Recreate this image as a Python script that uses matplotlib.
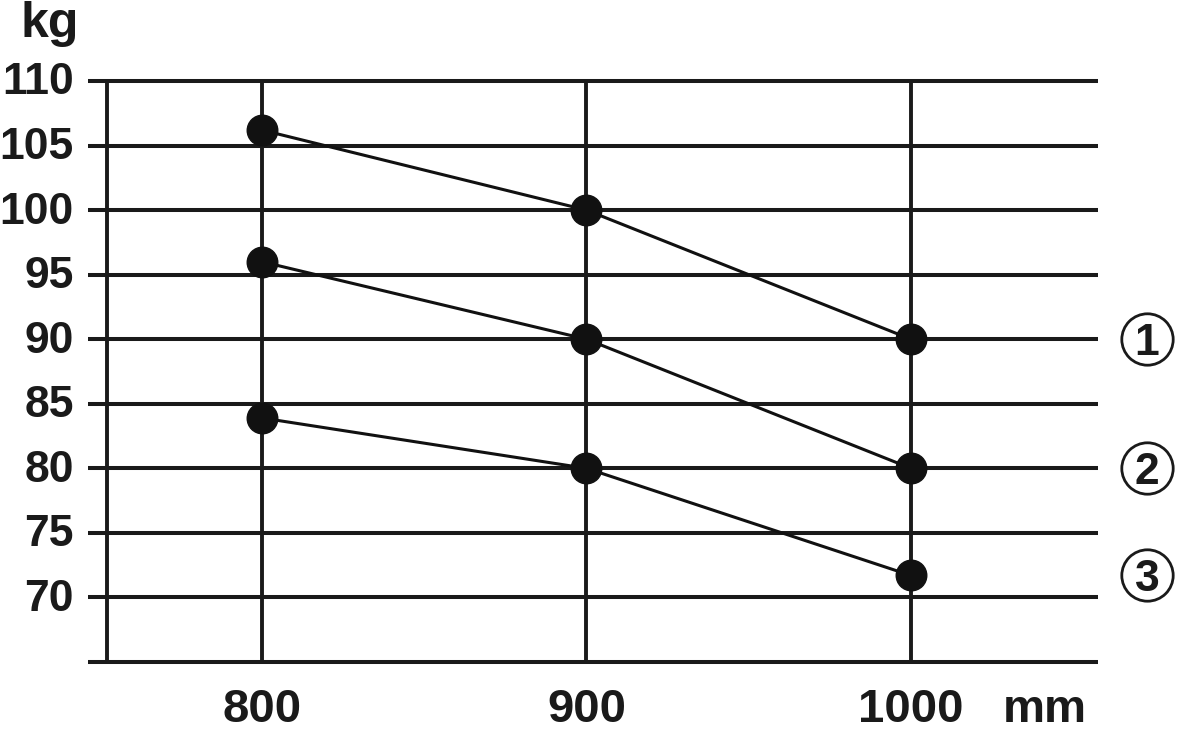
import matplotlib
matplotlib.use("Agg")
import matplotlib.pyplot as plt

width_mm = [800, 900, 1000]
series_1 = [106.2, 100, 90]
series_2 = [96, 90, 80]
series_3 = [83.9, 80, 71.7]
series_labels = ["1", "2", "3"]
y_ticks = [65, 70, 75, 80, 85, 90, 95, 100, 105, 110]
y_tick_labels = ["", "70", "75", "80", "85", "90", "95", "100", "105", "110"]

fam = ["Liberation Sans", "DejaVu Sans"]
plt.rcParams['font.family'] = fam
plt.rcParams['font.weight'] = 'bold'

W, H = 1178, 730
fig = plt.figure(figsize=(W / 100, H / 100), dpi=100)
left, right, top, bottom = 88, 1098, 81, 662
ax = fig.add_axes([left / W, 1 - bottom / H, (right - left) / W, (bottom - top) / H])

px_per_unit = (911 - 262) / 200
ax.set_xlim(800 - (262 - left) / px_per_unit, 1000 + (right - 911) / px_per_unit)
ax.set_ylim(65, 110)
for s in ax.spines.values():
    s.set_visible(False)
ax.set_xticks([])
ax.set_yticks([])

ink = "#1a1a1a"
# horizontal grid lines
for yv in y_ticks:
    ax.axhline(yv, color=ink, lw=2.9, clip_on=False, zorder=1, solid_capstyle='butt')
# left frame line and vertical grid lines
ax.axvline(800 - (262 - 107) / px_per_unit, color=ink, lw=2.8, clip_on=False, zorder=1)
for xv in width_mm:
    ax.axvline(xv, color=ink, lw=2.8, clip_on=False, zorder=1)

for s in (series_1, series_2, series_3):
    ax.plot(width_mm, s, color="#111111", lw=2.2, marker='o', markersize=22,
            markerfacecolor="#111111", markeredgecolor="#111111", zorder=3, clip_on=False)

fs = 34
# y tick labels
for yv, lab in zip(y_ticks, y_tick_labels):
    if lab:
        ax.text(-(left - 74) / (right - left), yv - 0.15, lab, transform=ax.get_yaxis_transform(),
                ha='right', va='center', fontsize=32, fontweight='bold', color=ink)
# x tick labels
for xv in width_mm:
    ax.text(xv, -(710 - 662) / (662 - 81), str(xv), transform=ax.get_xaxis_transform(),
            ha='center', va='center', fontsize=fs, fontweight='bold', color=ink)

fig.text(50 / W, 1 - 24 / H, "kg", ha='center', va='center', fontsize=fs + 2, fontweight='bold', color=ink)
fig.text(1045 / W, 1 - 710 / H, "mm", ha='center', va='center', fontsize=fs, fontweight='bold', color=ink)

# circled series labels at the last value of each series
label_x = 1000 + (1147 - 911) / px_per_unit
for s, lab in zip((series_1, series_2, series_3), series_labels):
    ax.plot([label_x], [s[-1]], marker='o', markersize=37, markerfacecolor='white',
            markeredgecolor=ink, markeredgewidth=2.0, clip_on=False, zorder=4)
    ax.text(label_x, s[-1], lab, ha='center', va='center_baseline', fontsize=32, fontweight='bold',
            color=ink, clip_on=False, zorder=5)

fig.savefig("out.png", dpi=100)
